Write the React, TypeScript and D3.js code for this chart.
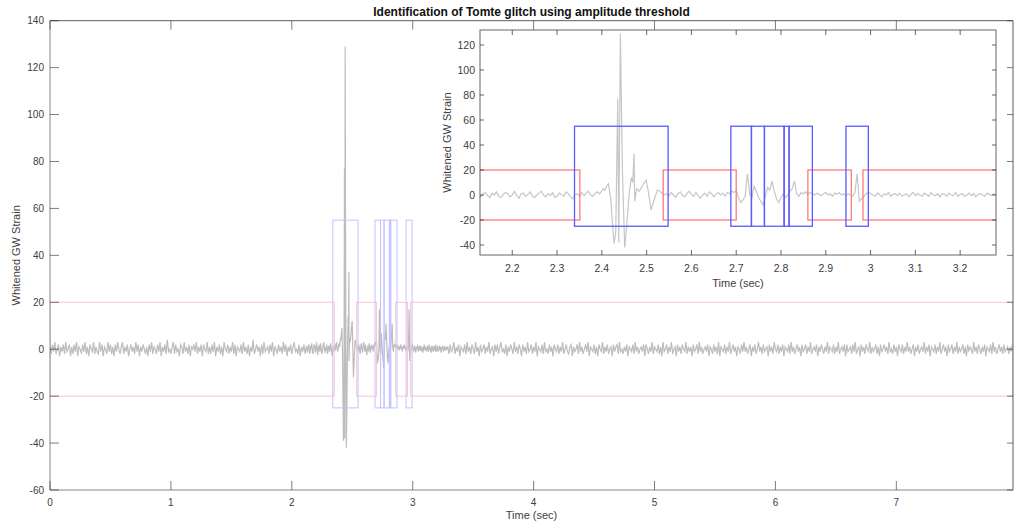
import React, { useEffect } from "react";
import * as d3 from "d3";

// ---------- DATA ----------
const chartTitle = "Identification of Tomte glitch using amplitude threshold";
const yLabel = "Whitened GW Strain";
const xLabel = "Time (sec)";

const mainXTicks = [0, 1, 2, 3, 4, 5, 6, 7];
const mainYTicks = [-60, -40, -20, 0, 20, 40, 60, 80, 100, 120, 140];
const insetXTicks = [2.2, 2.3, 2.4, 2.5, 2.6, 2.7, 2.8, 2.9, 3.0, 3.1, 3.2];
const insetYTicks = [-40, -20, 0, 20, 40, 60, 80, 100, 120];

// whitened strain, 0 .. 2.12 s (every 0.01 s)
const earlyNoise = [
  1,-2,2,-1,3,-2,0,2,-3,1,-1,2,-2,3,-1,0,2,-3,1,-2,
  2,-1,3,-3,1,0,-2,2,-1,3,-2,1,-3,2,0,-1,3,-2,1,-1,
  -2,3,-1,2,-3,1,0,-2,3,-1,2,-2,1,-3,2,-1,3,0,-2,1,
  3,-2,1,-1,2,-3,0,2,-1,1,-2,3,-1,2,-3,1,-1,2,0,-2,
  1,-3,2,-1,3,-2,1,0,-2,2,-1,3,-3,1,-1,2,-2,4,-1,0,
  -2,1,3,-2,2,-1,0,-3,2,1,-2,3,-1,1,-2,2,-3,1,0,2,
  -1,3,-2,1,-1,2,-3,2,0,-1,3,-2,1,-2,2,-1,3,-3,1,-1,
  2,-2,1,-3,3,0,-1,2,-2,1,-1,3,-2,2,-3,1,0,-1,2,-2,
  3,-1,1,-2,2,-3,1,-1,4,-2,0,2,-1,1,-3,2,-2,3,-1,0,
  1,-2,2,-1,3,-3,1,0,-2,2,-1,1,-2,3,-1,2,-3,1,-1,2,
  -2,1,3,-1,0,-2,2,-3,1,-1,2,-2,1,
];

// 2.125 .. 2.395 s (every 0.005 s)
const insetPre = [
  0.5,-1.5,1,2,-0.5,-2,1.5,0,2.5,-1,-2,0.5,2,1,-1.5,0,3,-0.5,-2.5,1,
  1.5,-1,0.5,2.5,-1,-2,0,1.5,3,0,-1.5,1,-0.5,2,-2,-1,1.5,0.5,-1,2.5,
  1,-1.5,-3,0,1,-1,2,-0.5,1.5,3,0,-1,1,2.5,1,
];

// the glitch itself
const glitchTimes = [
  2.399, 2.4034, 2.407, 2.4105, 2.4146, 2.4199, 2.4235, 2.4273, 2.4311, 2.4355,
  2.4378, 2.4414, 2.4459, 2.4511, 2.4555, 2.4607, 2.4659, 2.469, 2.4719, 2.4735,
  2.478, 2.4838, 2.4914, 2.4988, 2.5032, 2.5099, 2.5166, 2.524, 2.53, 2.5375,
];
const glitchValues = [
  3, 5, 4, 7, 9, -3, -22, -39, -30, 77,
  -38, 129, 20, -42, -25, 0, 14, 10, 33, -5,
  5, 3, 8, 12, 4, -12, -4, 4, 3, 0,
];

// 2.545 .. 3.28 s (every 0.005 s)
const insetPost = [
  1,-1,2,0,-2,1,2.5,0,-1.5,1,3,0.5,-1,2,-0.5,-2.5,0,1.5,-1,2.5,
  1,-1.5,0.5,2,0,1.5,-1,2,1,3,2,3.5,-2,-6,-4,-1,17,1,-2,7,
  3,-2,-5,-8,-1,6,4,11,3,-3,-6,-2,1,-2,0,3,5,11,1,-1,
  2,1,2.5,0.5,2,1,0,1.5,0.5,-0.5,1,2,0,1,-1,1.5,0.5,2,0,1,
  -0.5,1,0,-1,2,17,-5,-3,-1,1,2.5,1,
  0,-1,1.5,0.5,-1.5,1,0,2,-1,0.5,1,-0.5,1.5,-1,0,1,-1.5,0.5,2,-0.5,
  1,0,-1,1.5,0.5,-1,2,0,-0.5,1,-1.5,1,0.5,-1,1.5,0,-0.5,2,-1,0.5,
  1,-1,0,1.5,-0.5,1,-1.5,0.5,1,0,-1,1.5,0.5,-0.5,1,0,
];

// 3.29 .. 7.96 s (every 0.01 s)
const lateNoise = [
  1,-2,2,-1,0,3,-2,1,-1,2,-3,1,0,-1,2,-2,3,-1,1,-2,
  2,0,-2,3,-1,1,-3,2,-1,0,2,-2,1,-1,3,-2,0,1,-3,2,
  -1,2,-2,1,3,-1,0,-2,2,-3,1,-1,2,0,-2,3,-1,1,-2,2,
  0,-3,2,-1,1,-2,3,-1,0,2,-2,1,-1,3,-3,1,0,-1,2,-2,
  3,-1,0,-2,2,-1,1,-3,2,0,-1,2,-2,1,-1,3,-2,0,2,-1,
  -2,1,2,-3,1,-1,0,2,-2,3,-1,1,-2,0,2,-1,3,-3,1,0,
  -1,2,-2,1,-3,2,0,-1,3,-2,1,-1,2,-2,0,1,-3,2,-1,1,
  2,-2,3,-1,0,-2,1,-1,2,-3,1,0,-1,2,-2,3,-1,1,-2,0,
  1,-1,2,-3,2,0,-2,1,-1,3,-2,1,0,-1,2,-2,1,-3,3,-1,
  0,2,-2,1,-1,3,-2,0,1,-3,2,-1,1,-2,2,0,-1,3,-2,1,
  -1,1,-3,2,-1,0,2,-2,3,-1,1,-2,0,1,-1,2,-3,1,0,-2,
  2,-1,1,-2,3,-3,1,0,-1,2,-2,1,-1,3,-2,0,2,-1,1,-3,
  1,0,-2,2,-1,3,-1,1,-2,0,2,-3,1,-1,2,-2,0,3,-1,1,
  -2,2,-1,0,1,-3,2,-1,1,-2,3,0,-1,2,-2,1,-1,2,-3,1,
  0,-1,2,-2,3,-1,1,-2,0,2,-1,1,-3,2,-1,0,2,-2,1,-1,
  3,-2,0,1,-1,2,-3,1,-1,2,0,-2,1,-1,3,-2,1,0,-1,2,
  -2,1,-1,3,-2,0,1,-1,2,-3,2,-1,0,1,-2,2,-1,3,-2,0,
  1,-3,2,-1,1,-2,2,0,-1,3,-2,1,-1,0,2,-2,1,-3,2,-1,
  0,2,-1,1,-2,3,-1,0,-2,2,-1,1,-3,2,0,-1,2,-2,1,-1,
  3,-1,1,-2,0,2,-3,1,-1,2,-2,0,1,-1,3,-2,1,-1,2,-3,
  1,0,-1,2,-2,1,-1,3,-2,0,2,-1,1,-3,2,-1,0,2,-2,1,
  -1,3,-2,1,-1,0,2,-2,1,-3,2,-1,1,0,-2,3,-1,1,-2,2,
  0,-2,1,-1,2,-3,1,0,-1,2,-2,3,-1,1,-2,0,2,-1,1,-2,
  2,-1,0,1,-2,1,-1,2,
];

// amplitude threshold (±20) segments, red
const thresholdLevel = 20;
const redStarts = [0, 2.537, 2.86, 2.983];
const redEnds = [2.351, 2.7, 2.957, 7.965];

// glitch windows, blue (from -25 to 55)
const boxLow = -25;
const boxHigh = 55;
const blueStarts = [2.339, 2.688, 2.734, 2.763, 2.807, 2.818, 2.945];
const blueEnds = [2.548, 2.734, 2.763, 2.807, 2.818, 2.87, 2.995];

// ---------- BUILD SERIES ----------
type Pt = [number, number];
const signal: Pt[] = [
  ...earlyNoise.map((v, i): Pt => [i * 0.01, v]),
  ...insetPre.map((v, i): Pt => [2.125 + i * 0.005, v]),
  ...glitchTimes.map((t, i): Pt => [t, glitchValues[i]]),
  ...insetPost.map((v, i): Pt => [2.545 + i * 0.005, v]),
  ...lateNoise.map((v, i): Pt => [3.29 + i * 0.01, v]),
];

const FONT = "'Liberation Sans', Arial, Helvetica, sans-serif";
const AX = "#262626";
const TXT = "#404040";

export default function App() {
  useEffect(() => {
    document.body.style.margin = "0";
  }, []);

  const W = 1014;
  const H = 524;
  const M = { l: 50, r: 1013, t: 20.7, b: 490 };
  const I = { l: 480, r: 996, t: 30, b: 255 };

  const x = d3.scaleLinear().domain([0, 7.965]).range([M.l, M.r]);
  const y = d3.scaleLinear().domain([-60, 140]).range([M.b, M.t]);
  const xi = d3.scaleLinear().domain([2.128, 3.28]).range([I.l, I.r]);
  const yi = d3.scaleLinear().domain([-48, 132]).range([I.b, I.t]);

  const mainLine = d3
    .line<Pt>()
    .x((d) => x(d[0]))
    .y((d) => y(d[1]))(signal) as string;
  const insetSignal = signal.filter((d) => d[0] >= 2.1 && d[0] <= 3.3);
  const insetLine = d3
    .line<Pt>()
    .x((d) => xi(d[0]))
    .y((d) => yi(d[1]))(insetSignal) as string;

  const rects = (
    xs: d3.ScaleLinear<number, number>,
    ys: d3.ScaleLinear<number, number>,
    starts: number[],
    ends: number[],
    lo: number,
    hi: number,
    stroke: string,
    sw: number,
    key: string
  ) =>
    starts.map((s, i) => (
      <rect
        key={key + i}
        x={xs(s)}
        y={ys(hi)}
        width={xs(ends[i]) - xs(s)}
        height={ys(lo) - ys(hi)}
        fill="none"
        stroke={stroke}
        strokeWidth={sw}
      />
    ));

  const fmtInset = (v: number) => String(+v.toFixed(1));

  return (
    <svg
      width={W}
      height={H}
      style={{ display: "block", background: "#fff" }}
      fontFamily={FONT}
    >
      <defs>
        <clipPath id="mainClip">
          <rect x={M.l} y={M.t} width={M.r - M.l} height={M.b - M.t} />
        </clipPath>
        <clipPath id="insetClip">
          <rect x={I.l} y={I.t} width={I.r - I.l} height={I.b - I.t} />
        </clipPath>
      </defs>

      {/* ---------- MAIN AXES ---------- */}
      <rect x={M.l} y={M.t} width={M.r - M.l} height={M.b - M.t} fill="#fff" />
      <g clipPath="url(#mainClip)">
        <path d={mainLine} fill="none" stroke="#bdbdbd" strokeWidth={1.2} />
        {rects(x, y, redStarts, redEnds, -thresholdLevel, thresholdLevel, "#ffc4c4", 1, "mr")}
        {rects(x, y, blueStarts, blueEnds, boxLow, boxHigh, "#c2c2ff", 1, "mb")}
      </g>
      {/* box */}
      <line x1={M.l} x2={M.l} y1={M.t} y2={M.b} stroke={AX} strokeWidth={1} strokeOpacity={0.55} />
      <line x1={M.l} x2={M.r} y1={M.b} y2={M.b} stroke={AX} strokeWidth={1} strokeOpacity={0.55} />
      <line x1={M.l} x2={M.r} y1={M.t} y2={M.t} stroke={AX} strokeWidth={1} strokeOpacity={0.75} />
      <line x1={M.r} x2={M.r} y1={M.t} y2={M.b} stroke={AX} strokeWidth={1} strokeOpacity={0.75} />
      {mainXTicks.map((t) => (
        <g key={"mx" + t}>
          <line x1={x(t)} x2={x(t)} y1={M.b} y2={M.b - 9} stroke={AX} strokeOpacity={0.6} />
          <line x1={x(t)} x2={x(t)} y1={M.t} y2={M.t + 9} stroke={AX} strokeOpacity={0.6} />
          <text x={x(t)} y={M.b + 15.5} textAnchor="middle" fontSize={10} fill={TXT}>
            {t}
          </text>
        </g>
      ))}
      {mainYTicks.map((t) => (
        <g key={"my" + t}>
          <line x1={M.l} x2={M.l + 9} y1={y(t)} y2={y(t)} stroke={AX} strokeOpacity={0.6} />
          <line x1={M.r} x2={M.r - 6} y1={y(t)} y2={y(t)} stroke={AX} strokeOpacity={0.6} />
          <text x={M.l - 6} y={y(t) + 3.6} textAnchor="end" fontSize={10} fill={TXT}>
            {t}
          </text>
        </g>
      ))}
      <text x={(M.l + M.r) / 2} y={519} textAnchor="middle" fontSize={11} fill={TXT}>
        {xLabel}
      </text>
      <text
        transform={`translate(20,${(M.t + M.b) / 2}) rotate(-90)`}
        textAnchor="middle"
        fontSize={11}
        fill={TXT}
      >
        {yLabel}
      </text>
      <text
        x={(M.l + M.r) / 2}
        y={16}
        textAnchor="middle"
        fontSize={12}
        fontWeight="bold"
        fill="#111"
      >
        {chartTitle}
      </text>

      {/* ---------- INSET AXES ---------- */}
      <rect x={I.l} y={I.t} width={I.r - I.l} height={I.b - I.t} fill="#fff" />
      <g clipPath="url(#insetClip)">
        <path d={insetLine} fill="none" stroke="#c6c6c6" strokeWidth={1.2} />
        {rects(xi, yi, redStarts, redEnds, -thresholdLevel, thresholdLevel, "#ff7a7a", 1.3, "ir")}
        {rects(xi, yi, blueStarts, blueEnds, boxLow, boxHigh, "#5a5aff", 1.3, "ib")}
      </g>
      <rect
        x={I.l}
        y={I.t}
        width={I.r - I.l}
        height={I.b - I.t}
        fill="none"
        stroke={AX}
        strokeOpacity={0.7}
        strokeWidth={1}
      />
      {insetXTicks.map((t) => (
        <g key={"ix" + t}>
          <line x1={xi(t)} x2={xi(t)} y1={I.b} y2={I.b - 5} stroke={AX} strokeOpacity={0.7} />
          <line x1={xi(t)} x2={xi(t)} y1={I.t} y2={I.t + 5} stroke={AX} strokeOpacity={0.7} />
          <text x={xi(t)} y={I.b + 17} textAnchor="middle" fontSize={10.5} fill={TXT}>
            {fmtInset(t)}
          </text>
        </g>
      ))}
      {insetYTicks.map((t) => (
        <g key={"iy" + t}>
          <line x1={I.l} x2={I.l + 4} y1={yi(t)} y2={yi(t)} stroke={AX} strokeOpacity={0.7} />
          <line x1={I.r} x2={I.r - 4} y1={yi(t)} y2={yi(t)} stroke={AX} strokeOpacity={0.7} />
          <text x={I.l - 5} y={yi(t) + 3.8} textAnchor="end" fontSize={10.5} fill={TXT}>
            {t}
          </text>
        </g>
      ))}
      <text x={(I.l + I.r) / 2} y={286.5} textAnchor="middle" fontSize={11} fill={TXT}>
        {xLabel}
      </text>
      <text
        transform={`translate(451,${(I.t + I.b) / 2}) rotate(-90)`}
        textAnchor="middle"
        fontSize={11}
        fill={TXT}
      >
        {yLabel}
      </text>
    </svg>
  );
}
